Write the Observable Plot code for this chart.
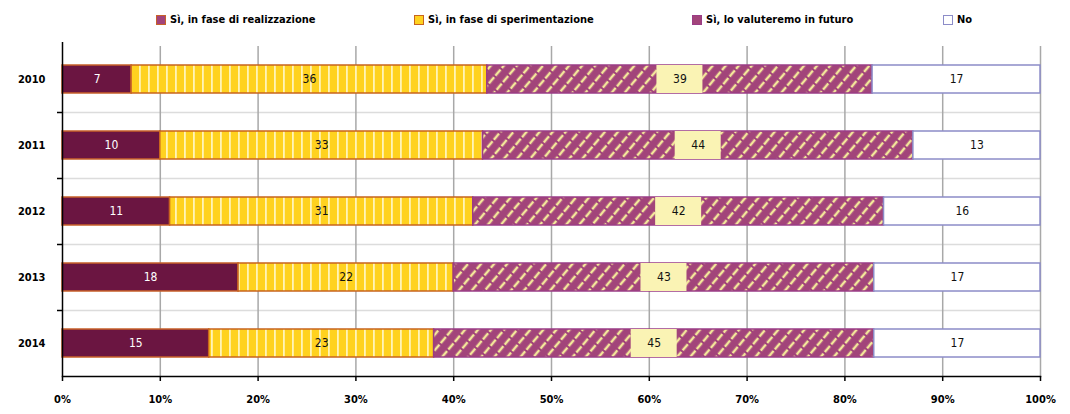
<!DOCTYPE html>
<html><head><meta charset="utf-8">
<script src="https://cdn.jsdelivr.net/npm/d3@7"></script>
<script src="https://cdn.jsdelivr.net/npm/@observablehq/plot@0.6"></script>
<style>
body{margin:0;background:#fff;font-family:"DejaVu Sans Condensed","Liberation Sans Narrow",sans-serif;}
#legend{position:relative;width:1070px;height:36px;}
.li{position:absolute;top:13px;font-size:11px;font-weight:bold;color:#000;display:flex;align-items:center;white-space:nowrap;}
.sw{width:10px;height:10px;margin-right:4px;box-sizing:border-box;}
</style></head>
<body>
<div id="legend"></div>
<div id="chart"></div>
<script>
const years = ["2010", "2011", "2012", "2013", "2014"];
const categories = ["Sì, in fase di realizzazione", "Sì, in fase di sperimentazione", "Sì, lo valuteremo in futuro", "No"];
const realizzazione = [7, 10, 11, 18, 15];
const sperimentazione = [36, 33, 31, 22, 23];
const futuro = [39, 44, 42, 43, 45];
const no = [17, 13, 16, 17, 17];
const xTicks = [0, 0.1, 0.2, 0.3, 0.4, 0.5, 0.6, 0.7, 0.8, 0.9, 1];

const series = [realizzazione, sperimentazione, futuro, no];
const fills = ["#6B1541", "url(#vstripe)", "url(#diag)", "#ffffff"];
const strokes = ["#C8602A", "#C8641E", "#9A3C86", "#8C8CC8"];
const legendFills = ["#A2447A", "#FFD21F", "#A2447A", "#ffffff"];
const legendX = [156, 414, 692, 943];

// legend
const lg = document.getElementById("legend");
categories.forEach((c, i) => {
  const d = document.createElement("div");
  d.className = "li";
  d.style.left = legendX[i] + "px";
  d.innerHTML = `<div class="sw" style="background:${legendFills[i]};border:1.5px solid ${strokes[i]}"></div>${c}`;
  lg.appendChild(d);
});

// stacked rows (normalized)
const rows = [];
years.forEach((y, j) => {
  const total = series.reduce((s, a) => s + a[j], 0);
  let cum = 0;
  series.forEach((a, i) => {
    const v = a[j];
    rows.push({year: y, cat: i, value: v, x1: cum / total, x2: (cum + v) / total, mid: (cum + v / 2) / total});
    cum += v;
  });
});

const marks = [
  Plot.ruleY(years.slice(0, -1), {y: d => d, dy: 33, stroke: "#dcdcdc", strokeWidth: 1.5}),
  Plot.ruleY(years.slice(0, -1), {y: d => d, dy: 33, x1: 0, x2: 0, insetLeft: -5, stroke: "#000", strokeWidth: 1.5}),
  Plot.ruleX(xTicks.slice(1), {stroke: "#a8a8a8", strokeWidth: 1.5}),
];
categories.forEach((c, i) => {
  marks.push(Plot.barX(rows.filter(r => r.cat === i), {x1: "x1", x2: "x2", y: "year", fill: fills[i], stroke: strokes[i], strokeWidth: 1.5}));
});
marks.push(Plot.barX(rows.filter(r => r.cat === 2), {x1: "mid", x2: "mid", y: "year", insetLeft: -23, insetRight: -23, fill: "#FAF3B4"}));
marks.push(Plot.text(rows.filter(r => r.cat === 0), {x: "mid", y: "year", text: "value", fill: "#fff", fontSize: 12, fontWeight: 500}));
marks.push(Plot.text(rows.filter(r => r.cat !== 0), {x: "mid", y: "year", text: "value", fill: "#111", fontSize: 12, fontWeight: 500}));
marks.push(Plot.ruleX([0], {stroke: "#000", strokeWidth: 1.5, insetTop: -4}));
marks.push(Plot.frame({anchor: "bottom", stroke: "#000", strokeWidth: 1.5}));
marks.push(Plot.axisX({ticks: xTicks, tickFormat: d => Math.round(d * 100) + "%", tickSize: 5, tickPadding: 14, fontWeight: "bold", fontSize: 11, stroke: "#000", strokeWidth: 1.5}));
marks.push(Plot.axisY({tickSize: 0, tickPadding: 17, fontWeight: "bold", fontSize: 11}));

const chart = Plot.plot({
  width: 1070, height: 378,
  marginTop: 10, marginBottom: 38, marginLeft: 62, marginRight: 30,
  style: {fontFamily: '"DejaVu Sans Condensed","Liberation Sans Narrow",sans-serif', background: "#fff", color: "#000"},
  x: {domain: [0, 1], label: null},
  y: {domain: years, paddingInner: 0.58, paddingOuter: 0.29, label: null},
  marks
});

const defs = d3.select(chart).insert("defs", ":first-child");
const vs = defs.append("pattern").attr("id", "vstripe").attr("patternUnits", "userSpaceOnUse").attr("width", 9).attr("height", 10);
vs.append("rect").attr("width", 9).attr("height", 10).attr("fill", "#FFD21F");
vs.append("rect").attr("x", 4).attr("width", 1.8).attr("height", 10).attr("fill", "#FFF4B8");
const dg = defs.append("pattern").attr("id", "diag").attr("patternUnits", "userSpaceOnUse").attr("width", 10).attr("height", 10).attr("patternTransform", "rotate(-50)");
dg.append("rect").attr("width", 10).attr("height", 10).attr("fill", "#A2447A");
dg.append("line").attr("x1", 0).attr("x2", 10).attr("y1", 5).attr("y2", 5).attr("stroke", "#F4E89A").attr("stroke-width", 2.4).attr("stroke-dasharray", "6 2");

document.getElementById("chart").appendChild(chart);
</script>
</body></html>
